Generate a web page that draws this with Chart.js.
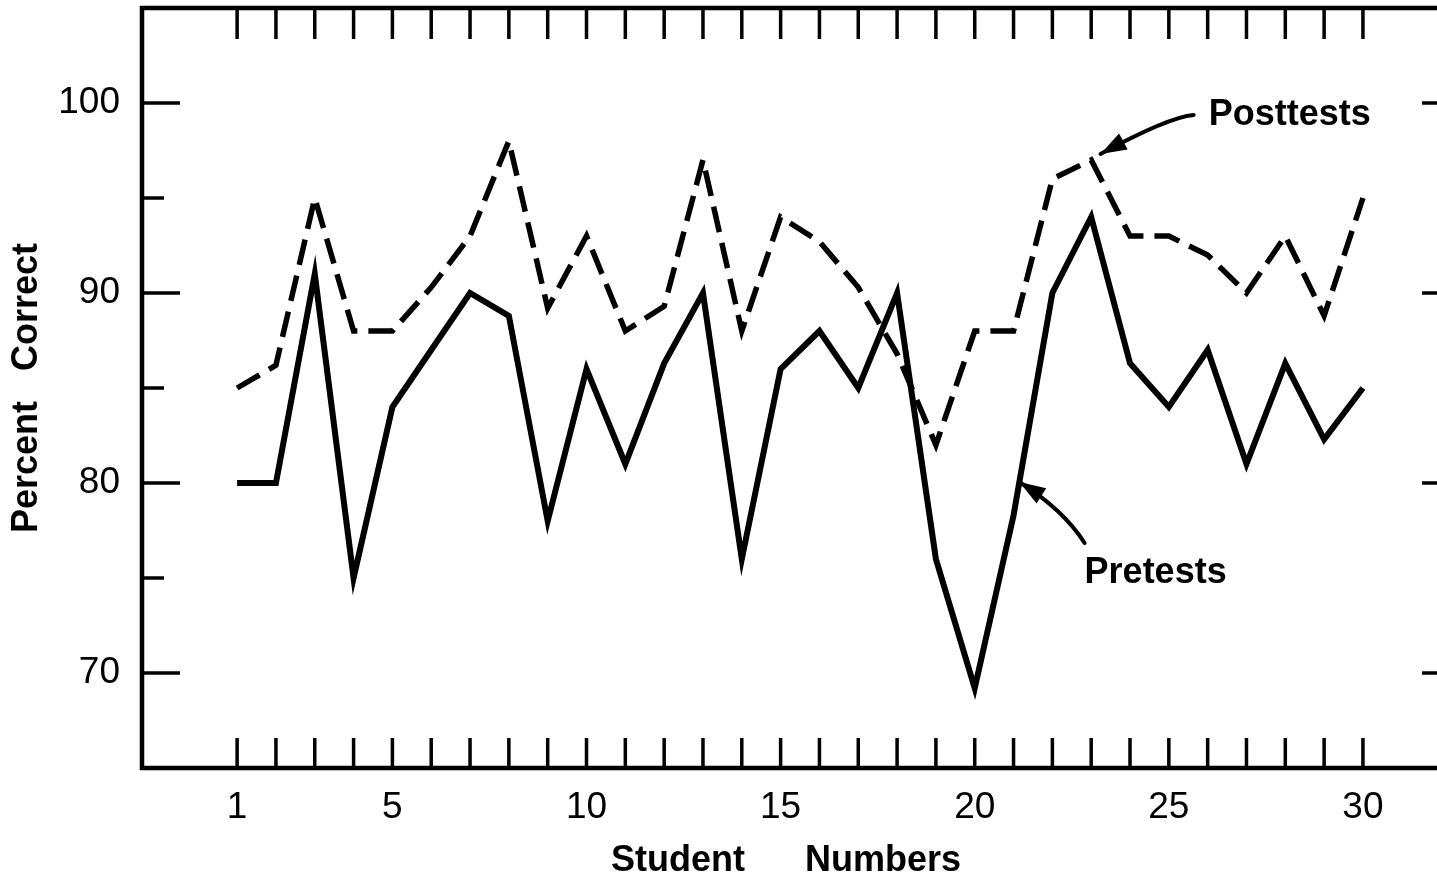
<!DOCTYPE html>
<html lang="en">
<head>
<meta charset="UTF-8">
<title>Pretest and Posttest Percent Correct</title>
<script src="https://cdn.jsdelivr.net/npm/chart.js"></script>
<style>
  html, body { margin: 0; padding: 0; background: #fff; overflow: hidden; }
</style>
</head>
<body>
<canvas id="scores" width="1470" height="883"></canvas>
<script>
// values
const students = [1, 2, 3, 4, 5, 6, 7, 8, 9, 10, 11, 12, 13, 14, 15,
                  16, 17, 18, 19, 20, 21, 22, 23, 24, 25, 26, 27, 28, 29, 30];
const pretests = [80, 80, 91, 75, 84, 87, 90, 88.8, 78, 86, 81, 86.3, 90, 76, 86,
                  88, 85, 90, 76, 69.2, 78.3, 90, 94, 86.3, 84, 87, 81, 86.3, 82.3, 85];
const posttests = [85, 86.2, 95, 88, 88, 90.3, 93, 98, 89.2, 93, 88, 89.3, 97, 88, 94,
                   92.7, 90.3, 86.8, 82, 88, 88, 96, 97, 93, 93, 92, 90, 93, 88.8, 95];
const xTickLabels = [1, 5, 10, 15, 20, 25, 30];
const yTickLabels = [70, 80, 90, 100];

const FONT = '"Liberation Sans", Arial, sans-serif';

// callouts, placed in data units
const callouts = [
  { text: 'Posttests', at: [26.03, 99.37], tail: [25.64, 99.37], bend: [24.99, 99.26], tip: [23.24, 97.32] },
  { text: 'Pretests', at: [22.83, 75.26], tail: [22.83, 76.84], bend: [22.29, 78.58], tip: [21.15, 80.05] }
];

const frame = {
  id: 'frame',
  beforeDatasetsDraw(chart) {
    const { ctx, chartArea: a, scales: { x, y } } = chart;
    ctx.save();
    ctx.strokeStyle = '#000';
    ctx.lineWidth = 4.5;
    ctx.strokeRect(a.left, a.top, a.right - a.left, a.bottom - a.top);
    ctx.lineWidth = 3.5;
    ctx.beginPath();
    students.forEach(s => {
      const px = x.getPixelForValue(s);
      ctx.moveTo(px, a.bottom); ctx.lineTo(px, a.bottom - 30);
      ctx.moveTo(px, a.top); ctx.lineTo(px, a.top + 31);
    });
    y.ticks.forEach(t => {
      if (t.value <= y.min || t.value >= y.max) return;
      const py = y.getPixelForValue(t.value);
      const len = yTickLabels.includes(t.value) ? 38 : 22;
      ctx.moveTo(a.left, py); ctx.lineTo(a.left + len, py);
      ctx.moveTo(a.right, py); ctx.lineTo(a.right - len, py);
    });
    ctx.stroke();
    ctx.restore();
  },
  afterDraw(chart) {
    const { ctx, scales: { x, y } } = chart;
    const p = v => [x.getPixelForValue(v[0]), y.getPixelForValue(v[1])];
    ctx.save();
    ctx.fillStyle = '#000';
    ctx.strokeStyle = '#000';
    callouts.forEach(c => {
      const [tx, ty] = p(c.at);
      ctx.font = 'bold 36px ' + FONT;
      ctx.textAlign = 'left';
      ctx.textBaseline = 'middle';
      ctx.fillText(c.text, tx, ty);

      const t0 = p(c.tail), b = p(c.bend), t1 = p(c.tip);
      ctx.lineWidth = 4;
      ctx.lineCap = 'round';
      ctx.beginPath();
      ctx.moveTo(t0[0], t0[1]);
      ctx.quadraticCurveTo(b[0], b[1], t1[0], t1[1]);
      ctx.stroke();

      const ang = Math.atan2(t1[1] - b[1], t1[0] - b[0]);
      const len = 26, half = 9;
      ctx.beginPath();
      ctx.moveTo(t1[0], t1[1]);
      ctx.lineTo(t1[0] - len * Math.cos(ang) + half * Math.sin(ang),
                 t1[1] - len * Math.sin(ang) - half * Math.cos(ang));
      ctx.lineTo(t1[0] - len * Math.cos(ang) - half * Math.sin(ang),
                 t1[1] - len * Math.sin(ang) + half * Math.cos(ang));
      ctx.closePath();
      ctx.fill();
    });
    ctx.restore();
  }
};

new Chart(document.getElementById('scores'), {
  type: 'line',
  data: {
    datasets: [
      {
        label: 'Pretests',
        data: students.map((s, i) => ({ x: s, y: pretests[i] })),
        borderColor: '#000',
        borderWidth: 6,
        borderJoinStyle: 'miter',
        pointRadius: 0,
        tension: 0
      },
      {
        label: 'Posttests',
        data: students.map((s, i) => ({ x: s, y: posttests[i] })),
        borderColor: '#000',
        borderWidth: 5.5,
        borderDash: [26, 11],
        borderCapStyle: 'butt',
        borderJoinStyle: 'miter',
        pointRadius: 0,
        tension: 0
      }
    ]
  },
  options: {
    responsive: false,
    animation: false,
    layout: { padding: { top: 8, right: 10, left: 0, bottom: 0 } },
    plugins: { legend: { display: false }, tooltip: { enabled: false } },
    scales: {
      x: {
        type: 'linear',
        min: -1.45,
        max: 32.5,
        grid: { display: false, drawTicks: false },
        border: { display: false },
        afterBuildTicks: scale => { scale.ticks = students.map(v => ({ value: v })); },
        afterFit: scale => {
          scale.height = 115;
          scale.paddingLeft = 0;
          scale.paddingRight = 0;
        },
        ticks: {
          autoSkip: false,
          maxRotation: 0,
          padding: 18,
          color: '#000',
          font: { family: FONT, size: 37 },
          callback: v => xTickLabels.includes(v) ? String(v) : ''
        },
        title: {
          display: true,
          text: 'Student      Numbers   ',
          color: '#000',
          font: { family: FONT, size: 36, weight: 'bold' },
          padding: { top: 0, bottom: 0 }
        }
      },
      y: {
        min: 65,
        max: 105,
        grid: { display: false, drawTicks: false },
        border: { display: false },
        afterFit: scale => {
          scale.width = 142;
          scale.paddingTop = 0;
          scale.paddingBottom = 0;
        },
        ticks: {
          stepSize: 5,
          padding: 22,
          color: '#000',
          font: { family: FONT, size: 37 },
          callback: v => yTickLabels.includes(v) ? String(v) : ''
        },
        title: {
          display: true,
          text: 'Percent   Correct',
          color: '#000',
          font: { family: FONT, size: 36, weight: 'bold' },
          padding: { top: 5, bottom: 0 }
        }
      }
    }
  },
  plugins: [frame]
});
</script>
</body>
</html>
